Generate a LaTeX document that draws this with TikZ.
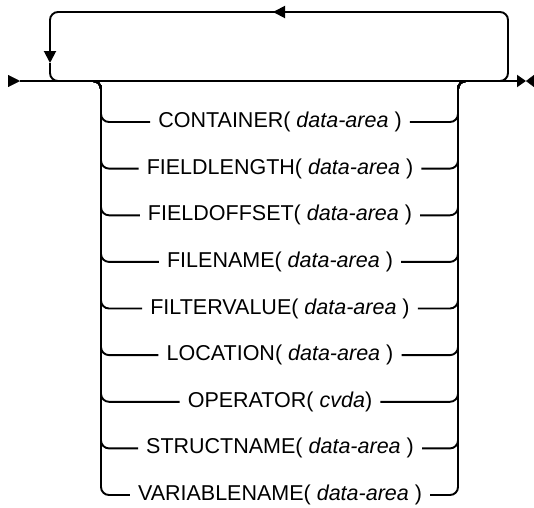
\documentclass[tikz,border=0pt]{standalone}
\usepackage{fontspec}
\setmainfont{Liberation Sans}
\usetikzlibrary{arrows.meta}

\tikzset{
  rail/.style={line width=1.9pt, rounded corners=8pt},
  opt/.style={inner xsep=8pt, inner ysep=0pt, font=\fontsize{21.5}{24}\selectfont},
  tip/.style={-{Triangle[length=12pt,width=12pt]}}
}

\begin{document}
\begin{tikzpicture}[x=1pt,y=-1pt]
\useasboundingbox (0,0) rectangle (534,507);

% main line
\coordinate (start) at (10,81);
\coordinate (go) at (20,81);
\coordinate (stop) at (526,81);
\coordinate (cap) at (534,81);
\coordinate (split) at (90,81);
\coordinate (join) at (468,81);
\coordinate (lrail) at (101,0);
\coordinate (rrail) at (458,0);

\draw[tip] (start) -- (go);
\draw[line width=1.9pt, -{Triangle[length=9pt,width=12pt]}] (go) -- (stop);
\draw[-{Triangle[length=8pt,width=12pt]}] (cap) -- (stop);

% repeat loop
\coordinate (back) at (496,81);
\coordinate (topin) at (273,12);
\coordinate (topout) at (285,12);
\coordinate (downin) at (50,63);
\coordinate (again) at (62,81);
\draw[rail, tip] (back) -| (508,12) -- (topin);
\draw[rail, tip] (topout) -| (downin);
\draw[rail] (downin) |- (again);

% options
\node[opt] (cont) at (280,122) {CONTAINER( \textit{data-area} )};
\node[opt] (flen) at (280,168.6) {FIELDLENGTH( \textit{data-area} )};
\node[opt] (foff) at (280,215.3) {FIELDOFFSET( \textit{data-area} )};
\node[opt] (fnam) at (280,261.9) {FILENAME( \textit{data-area} )};
\node[opt] (fval) at (280,308.5) {FILTERVALUE( \textit{data-area} )};
\node[opt] (loc) at (280,355.1) {LOCATION( \textit{data-area} )};
\node[opt] (oper) at (280,401.8) {OPERATOR( \textit{cvda})};
\node[opt] (snam) at (280,448.4) {STRUCTNAME( \textit{data-area} )};
\node[opt] (vnam) at (280,495) {VARIABLENAME( \textit{data-area} )};

\foreach \o in {cont,flen,foff,fnam,fval,loc,oper,snam,vnam}
  \draw[rail] (split) -| (lrail |- \o) -- (\o.west)
              (\o.east) -| (rrail |- join) -- (join);

\end{tikzpicture}
\end{document}
